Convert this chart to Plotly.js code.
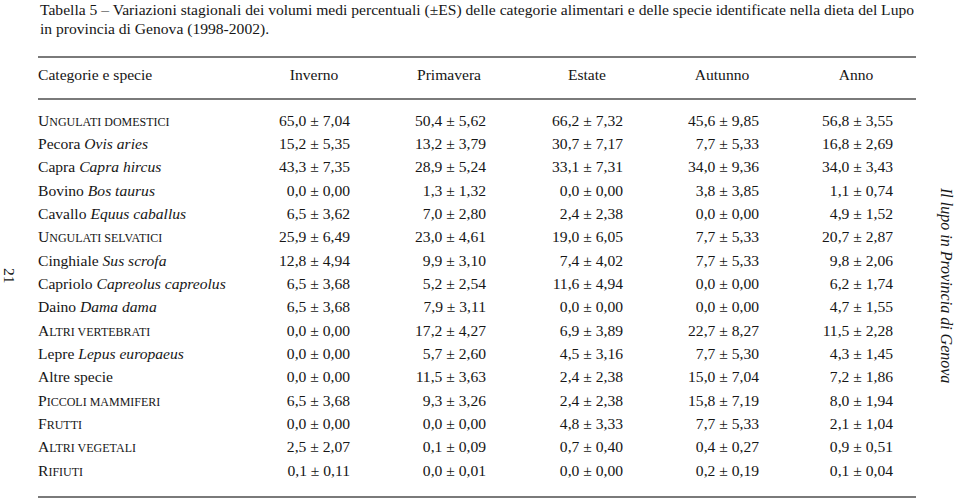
<!DOCTYPE html>
<html><head><meta charset="utf-8">
<script src="https://cdn.plot.ly/plotly-3.0.1.min.js"></script>
<style>html,body{margin:0;padding:0;background:#fff}</style>
</head><body><div id="chart" style="width:960px;height:501px"></div>
<script>
// ---------- data ----------
const rowNames = ["Ungulati domestici","Pecora","Capra","Bovino","Cavallo","Ungulati selvatici","Cinghiale","Capriolo","Daino","Altri vertebrati","Lepre","Altre specie","Piccoli mammiferi","Frutti","Altri vegetali","Rifiuti"];
const rowLatin = ["","Ovis aries","Capra hircus","Bos taurus","Equus caballus","","Sus scrofa","Capreolus capreolus","Dama dama","","Lepus europaeus","","","","",""];
const rowIsGroup = [true,false,false,false,false,true,false,false,false,true,false,false,true,true,true,true];

const seasons = ["Inverno","Primavera","Estate","Autunno","Anno"];
const invernoMean   = [65.0,15.2,43.3,0.0,6.5,25.9,12.8,6.5,6.5,0.0,0.0,0.0,6.5,0.0,2.5,0.1];
const invernoSE     = [7.04,5.35,7.35,0.00,3.62,6.49,4.94,3.68,3.68,0.00,0.00,0.00,3.68,0.00,2.07,0.11];
const primaveraMean = [50.4,13.2,28.9,1.3,7.0,23.0,9.9,5.2,7.9,17.2,5.7,11.5,9.3,0.0,0.1,0.0];
const primaveraSE   = [5.62,3.79,5.24,1.32,2.80,4.61,3.10,2.54,3.11,4.27,2.60,3.63,3.26,0.00,0.09,0.01];
const estateMean    = [66.2,30.7,33.1,0.0,2.4,19.0,7.4,11.6,0.0,6.9,4.5,2.4,2.4,4.8,0.7,0.0];
const estateSE      = [7.32,7.17,7.31,0.00,2.38,6.05,4.02,4.94,0.00,3.89,3.16,2.38,2.38,3.33,0.40,0.00];
const autunnoMean   = [45.6,7.7,34.0,3.8,0.0,7.7,7.7,0.0,0.0,22.7,7.7,15.0,15.8,7.7,0.4,0.2];
const autunnoSE     = [9.85,5.33,9.36,3.85,0.00,5.33,5.33,0.00,0.00,8.27,5.30,7.04,7.19,5.33,0.27,0.19];
const annoMean      = [56.8,16.8,34.0,1.1,4.9,20.7,9.8,6.2,4.7,11.5,4.3,7.2,8.0,2.1,0.9,0.1];
const annoSE        = [3.55,2.69,3.43,0.74,1.52,2.87,2.06,1.74,1.55,2.28,1.45,1.86,1.94,1.04,0.51,0.04];

const headerFirst = "Categorie e specie";
const captionLine1 = "Tabella 5 – Variazioni stagionali dei volumi medi percentuali (±ES) delle categorie alimentari e delle specie identificate nella dieta del Lupo";
const captionLine2 = "in provincia di Genova (1998-2002).";
const pageNumber = "21";
const runningHead = "Il lupo in Provincia di Genova";

// ---------- layout constants ----------
const W = 960, H = 501;
const FONT = "Liberation Serif, Times New Roman, serif";
const INK = "#161616";
const FS = 15.6, SMALL = 12;
const rowY0 = 121.7, rowStep = 23.33;      // pixel centre of first row, spacing
const labelX = 38;
const colRight = [350, 486, 623, 759, 893];
const colCenter = [314, 449, 587, 722, 856];
const headerY = 76;
const ruleX0 = 38, ruleX1 = 916;
const rules = [57, 99, 497];

const pxToRow = p => (p - rowY0) / rowStep;
const fmt = (v, d) => v.toFixed(d).replace(".", ",");
const smallCaps = s => {
  let out = "", open = false;
  for (const c of s) {
    const low = c >= "a" && c <= "z";
    if (low && !open) { out += '<span style="font-size:' + SMALL + 'px">'; open = true; }
    if (!low && c !== " " && open) { out += "</span>"; open = false; }
    out += low ? c.toUpperCase() : c;
  }
  return open ? out + "</span>" : out;
};

const rows = rowNames.map((_, i) => i);
const labels = rowNames.map((n, i) => rowIsGroup[i] ? smallCaps(n) : (rowLatin[i] ? n + " <i>" + rowLatin[i] + "</i>" : n));

const means = [invernoMean, primaveraMean, estateMean, autunnoMean, annoMean];
const ses = [invernoSE, primaveraSE, estateSE, autunnoSE, annoSE];

const textFont = {family: FONT, size: FS, color: INK};
const traces = [];
traces.push({type: "scatter", mode: "text", x: rows.map(() => labelX), y: rows, text: labels,
  textposition: "middle right", textfont: textFont, hoverinfo: "skip", showlegend: false});
seasons.forEach((s, k) => {
  traces.push({type: "scatter", mode: "text", x: rows.map(() => colRight[k]), y: rows,
    text: means[k].map((m, i) => fmt(m, 1) + " ± " + fmt(ses[k][i], 2)),
    textposition: "middle left", textfont: textFont, hoverinfo: "skip", showlegend: false, name: s});
});
traces.push({type: "scatter", mode: "text", x: [labelX], y: [pxToRow(headerY)], text: [headerFirst],
  textposition: "middle right", textfont: textFont, hoverinfo: "skip", showlegend: false});
traces.push({type: "scatter", mode: "text", x: colCenter, y: seasons.map(() => pxToRow(headerY)), text: seasons,
  textposition: "middle center", textfont: textFont, hoverinfo: "skip", showlegend: false});

const layout = {
  width: W, height: H, margin: {l: 0, r: 0, t: 0, b: 0},
  paper_bgcolor: "#fff", plot_bgcolor: "#fff", showlegend: false,
  xaxis: {range: [0, W], visible: false, fixedrange: true},
  yaxis: {range: [pxToRow(H), pxToRow(0)], visible: false, fixedrange: true},
  shapes: rules.map(p => ({type: "line", xref: "x", yref: "paper", x0: ruleX0, x1: ruleX1,
    y0: 1 - p / H, y1: 1 - p / H, line: {color: "#7a7a7a", width: 2}})),
  annotations: [
    {xref: "x", yref: "paper", x: labelX, y: 1 - 10 / H, text: captionLine1, showarrow: false,
     xanchor: "left", yanchor: "middle", font: textFont},
    {xref: "x", yref: "paper", x: labelX, y: 1 - 29 / H, text: captionLine2, showarrow: false,
     xanchor: "left", yanchor: "middle", font: textFont},
    {xref: "x", yref: "paper", x: 10, y: 1 - 276 / H, text: pageNumber, showarrow: false, textangle: 90,
     xanchor: "center", yanchor: "middle", font: textFont},
    {xref: "x", yref: "paper", x: 946, y: 1 - 285 / H, text: "<i>" + runningHead + "</i>", showarrow: false, textangle: 90,
     xanchor: "center", yanchor: "middle", font: {family: FONT, size: 16, color: INK}}
  ]
};
Plotly.newPlot("chart", traces, layout, {staticPlot: true, displayModeBar: false});
</script></body></html>
